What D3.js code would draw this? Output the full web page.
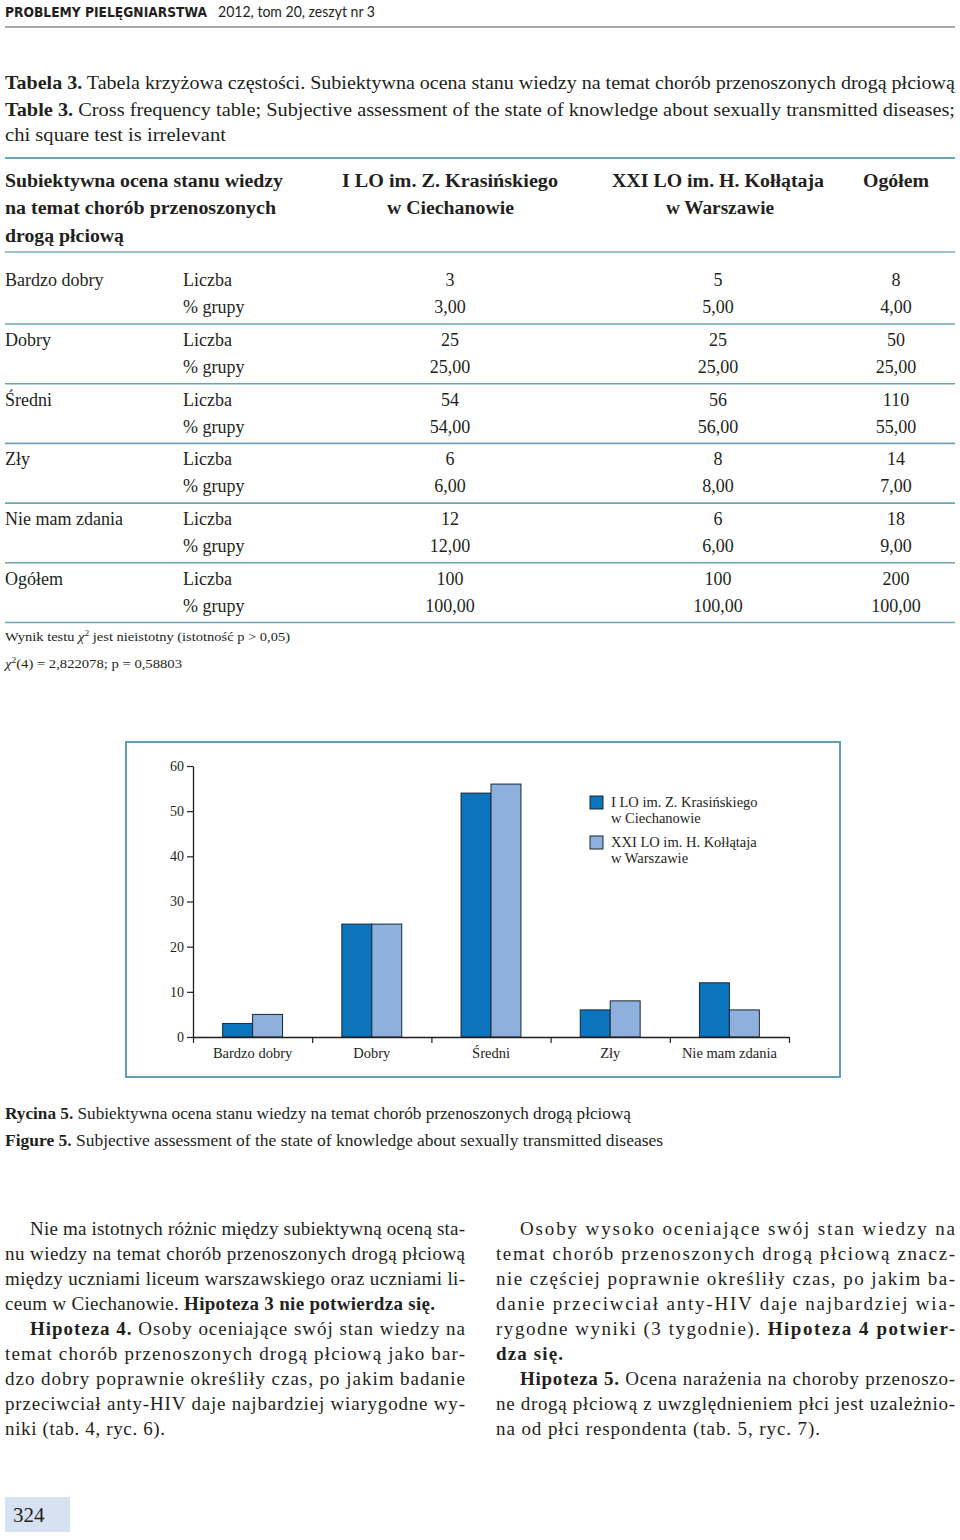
<!DOCTYPE html>
<html><head><meta charset="utf-8">
<script src="https://cdn.jsdelivr.net/npm/d3@7"></script>
<style>body{margin:0;background:#fff}svg{display:block}</style>
</head><body>
<svg id="page" width="960" height="1540"></svg>
<script>
// ---------- DATA ----------
const categories = ["Bardzo dobry", "Dobry", "Średni", "Zły", "Nie mam zdania"];
const seriesNames = ["I LO im. Z. Krasińskiego w Ciechanowie", "XXI LO im. H. Kołłątaja w Warszawie"];
const ciechanow = [3, 25, 54, 6, 12];
const warszawa = [5, 25, 56, 8, 6];
const ogolem = [8, 50, 110, 14, 18];
const ogolemPct = [4, 25, 55, 7, 9];
const yTicks = [0, 10, 20, 30, 40, 50, 60];
const rowLabels = ["Bardzo dobry", "Dobry", "Średni", "Zły", "Nie mam zdania", "Ogółem"];

const svg = d3.select("#page");
const SERIF = "'Liberation Serif','Times New Roman',serif";
const INK = "#231f20";
const TEAL = "#68a6b6";

function txt(x, y, segs, o = {}) {
  if (typeof segs === "string") segs = [{t: segs}];
  const t = svg.append("text").attr("x", x).attr("y", y)
    .attr("font-family", o.family || SERIF).attr("font-size", o.size || 18)
    .attr("fill", o.fill || INK).attr("text-anchor", o.anchor || "start");
  if (o.w) t.attr("textLength", o.w).attr("lengthAdjust", o.adj || "spacingAndGlyphs");
  segs.forEach(s => {
    const sp = t.append("tspan").text(s.t);
    if (s.b) sp.attr("font-weight", "bold");
    if (s.sup) sp.attr("font-size", (o.size || 18) * 0.65).attr("dy", -5);
    if (s.down) sp.attr("dy", 5);
    if (s.it) sp.attr("font-style", "italic");
  });
  return t;
}
function hline(x1, x2, y, c, w) {
  svg.append("line").attr("x1", x1).attr("x2", x2).attr("y1", y).attr("y2", y)
    .attr("stroke", c).attr("stroke-width", w);
}

// ---------- Running header ----------
txt(5, 17, [{t: "PROBLEMY PIELĘGNIARSTWA", b: true}], {family: "'DejaVu Sans',sans-serif", size: 14, w: 202});
txt(218, 17, "2012, tom 20, zeszyt nr 3", {family: "Lato,'DejaVu Sans',sans-serif", size: 15.5, w: 157});
hline(5, 955, 27, "#8c8c8c", 1.5);

// ---------- Table caption ----------
txt(5, 89, [{t: "Tabela 3.", b: true}, {t: " Tabela krzyżowa częstości. Subiektywna ocena stanu wiedzy na temat chorób przenoszonych drogą płciową"}], {size: 19, w: 950});
txt(5, 116, [{t: "Table 3.", b: true}, {t: " Cross frequency table; Subjective assessment of the state of knowledge about sexually transmitted diseases;"}], {size: 19, w: 950});
txt(5, 141, "chi square test is irrelevant", {size: 19, w: 221});

// ---------- Table ----------
hline(5, 955, 158, TEAL, 2);
const hb = {size: 18.5};
txt(5, 187, [{t: "Subiektywna ocena stanu wiedzy", b: true}], {...hb, w: 278});
txt(5, 214, [{t: "na temat chorób przenoszonych", b: true}], {...hb, w: 271});
txt(5, 242, [{t: "drogą płciową", b: true}], {...hb, w: 119});
txt(342, 187, [{t: "I LO im. Z. Krasińskiego", b: true}], {...hb, w: 216});
txt(387, 214, [{t: "w Ciechanowie", b: true}], {...hb, w: 127});
txt(612, 187, [{t: "XXI LO im. H. Kołłątaja", b: true}], {...hb, w: 212});
txt(666, 214, [{t: "w Warszawie", b: true}], {...hb, w: 108});
txt(863, 187, [{t: "Ogółem", b: true}], {...hb, w: 66});
hline(5, 955, 252, "#9cc4cf", 2);

const fmt = v => v.toFixed(2).replace(".", ",");
const cie = ciechanow.concat([d3.sum(ciechanow)]);
const war = warszawa.concat([d3.sum(warszawa)]);
const tot = ogolem.concat([d3.sum(ogolem)]);
const totP = ogolemPct.concat([100]);
rowLabels.forEach((lab, i) => {
  const y1 = 286 + i * 59.8, y2 = y1 + 27;
  txt(5, y1, lab, {size: 18});
  txt(183, y1, "Liczba", {size: 18});
  txt(183, y2, "% grupy", {size: 18});
  txt(450, y1, String(cie[i]), {size: 18, anchor: "middle"});
  txt(450, y2, fmt(cie[i]), {size: 18, anchor: "middle"});
  txt(718, y1, String(war[i]), {size: 18, anchor: "middle"});
  txt(718, y2, fmt(war[i]), {size: 18, anchor: "middle"});
  txt(896, y1, String(tot[i]), {size: 18, anchor: "middle"});
  txt(896, y2, fmt(totP[i]), {size: 18, anchor: "middle"});
  hline(5, 955, 324 + i * 59.7, TEAL, 1.6);
});
txt(5, 641, [{t: "Wynik testu "}, {t: "χ", it: true}, {t: "2", sup: true}, {t: " jest nieistotny (istotność p > 0,05)", down: true}], {size: 13.5, w: 285});
txt(5, 668, [{t: "χ", it: true}, {t: "2", sup: true}, {t: "(4) = 2,822078; p = 0,58803", down: true}], {size: 13.5, w: 177});

// ---------- Chart ----------
svg.append("rect").attr("x", 126).attr("y", 742).attr("width", 714).attr("height", 335)
  .attr("fill", "none").attr("stroke", "#5fa0b8").attr("stroke-width", 2);

const x = d3.scaleBand().domain(categories).range([193, 789]).paddingInner(0).paddingOuter(0);
const xs = d3.scaleBand().domain([0, 1]).range([0, x.bandwidth()]).paddingInner(0).paddingOuter(0.99);
const y = d3.scaleLinear().domain([0, 60]).range([1037, 766]);
const colors = ["#0a74bd", "#8eb0dd"];
const series = [ciechanow, warszawa];

const g = svg.append("g");
series.forEach((vals, si) => {
  g.selectAll(".b" + si).data(vals).join("rect")
    .attr("x", (d, i) => x(categories[i]) + xs(si))
    .attr("y", d => y(d))
    .attr("width", xs.bandwidth())
    .attr("height", d => y(0) - y(d))
    .attr("fill", colors[si]).attr("stroke", "#1b2633").attr("stroke-width", 1);
});

const yAxis = svg.append("g").attr("transform", "translate(193,0)")
  .call(d3.axisLeft(y).tickValues(yTicks).tickSize(6).tickSizeOuter(0).tickPadding(3));
yAxis.select(".domain").attr("stroke", "#231f20").attr("stroke-width", 1.3);
yAxis.selectAll(".tick line").attr("stroke", "#231f20").attr("stroke-width", 1.2);
yAxis.selectAll(".tick text").attr("font-family", SERIF).attr("font-size", 14).attr("fill", INK);

const xTickScale = d3.scaleLinear().domain([0, categories.length]).range([193, 789]);
const xAxis = svg.append("g").attr("transform", "translate(0,1037)")
  .call(d3.axisBottom(xTickScale).tickValues(d3.range(categories.length + 1)).tickSize(6).tickSizeOuter(0).tickFormat(""));
xAxis.select(".domain").attr("stroke", "#231f20").attr("stroke-width", 1.3);
xAxis.selectAll(".tick line").attr("stroke", "#231f20").attr("stroke-width", 1.2);
categories.forEach(c => txt(x(c) + x.bandwidth() / 2, 1058, c, {size: 14.5, anchor: "middle"}));

// legend
const legLines = [["I LO im. Z. Krasińskiego", "w Ciechanowie"], ["XXI LO im. H. Kołłątaja", "w Warszawie"]];
legLines.forEach((ls, i) => {
  const y0 = 796 + i * 40;
  svg.append("rect").attr("x", 590).attr("y", y0).attr("width", 13).attr("height", 13)
    .attr("fill", colors[i]).attr("stroke", "#1b2633").attr("stroke-width", 1);
  txt(611, y0 + 11, ls[0], {size: 14.5});
  txt(611, y0 + 27, ls[1], {size: 14.5});
});

// ---------- Figure caption ----------
txt(5, 1119, [{t: "Rycina 5.", b: true}, {t: " Subiektywna ocena stanu wiedzy na temat chorób przenoszonych drogą płciową"}], {size: 16.5, w: 626});
txt(5, 1146, [{t: "Figure 5.", b: true}, {t: "  Subjective assessment of the state of knowledge about sexually transmitted diseases"}], {size: 16.5, w: 658});

// ---------- Body text ----------
const B = 1235, LH = 25;
const leftCol = [
  {x: 30, w: 435, s: [{t: "Nie ma istotnych różnic między subiektywną oceną sta-"}]},
  {x: 5, w: 460, s: [{t: "nu wiedzy na temat chorób przenoszonych drogą płciową"}]},
  {x: 5, w: 460, s: [{t: "między uczniami liceum warszawskiego oraz uczniami li-"}]},
  {x: 5, w: 430, s: [{t: "ceum w Ciechanowie. "}, {t: "Hipoteza 3 nie potwierdza się.", b: true}]},
  {x: 30, w: 435, s: [{t: "Hipoteza 4.", b: true}, {t: " Osoby oceniające swój stan wiedzy na"}]},
  {x: 5, w: 460, s: [{t: "temat chorób przenoszonych drogą płciową jako bar-"}]},
  {x: 5, w: 460, s: [{t: "dzo dobry poprawnie określiły czas, po jakim badanie"}]},
  {x: 5, w: 460, s: [{t: "przeciwciał anty-HIV daje najbardziej wiarygodne wy-"}]},
  {x: 5, w: 160, s: [{t: "niki (tab. 4, ryc. 6)."}]}
];
const rightCol = [
  {x: 520, w: 435, s: [{t: "Osoby wysoko oceniające swój stan wiedzy na"}]},
  {x: 496, w: 459, s: [{t: "temat chorób przenoszonych drogą płciową znacz-"}]},
  {x: 496, w: 459, s: [{t: "nie częściej poprawnie określiły czas, po jakim ba-"}]},
  {x: 496, w: 459, s: [{t: "danie przeciwciał anty-HIV daje najbardziej wia-"}]},
  {x: 496, w: 459, s: [{t: "rygodne wyniki (3 tygodnie). "}, {t: "Hipoteza 4 potwier-", b: true}]},
  {x: 496, w: 67, s: [{t: "dza się.", b: true}]},
  {x: 520, w: 435, s: [{t: "Hipoteza 5.", b: true}, {t: " Ocena narażenia na choroby przenoszo-"}]},
  {x: 496, w: 459, s: [{t: "ne drogą płciową z uwzględnieniem płci jest uzależnio-"}]},
  {x: 496, w: 324, s: [{t: "na od płci respondenta (tab. 5, ryc. 7)."}]}
];
[leftCol, rightCol].forEach(col => col.forEach((l, i) => {
  txt(l.x, B + i * LH, l.s, {size: 19, w: l.w, adj: "spacing"});
}));

// ---------- Page number ----------
svg.append("rect").attr("x", 5).attr("y", 1497).attr("width", 65).attr("height", 35).attr("fill", "#d6e1f1");
txt(13, 1522, "324", {size: 21});
</script>
</body></html>
